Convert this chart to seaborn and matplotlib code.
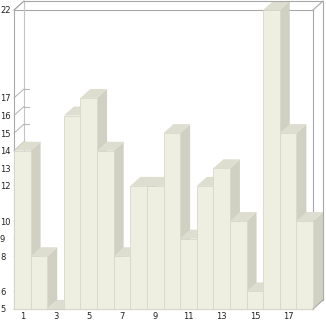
import numpy as np
import pandas as pd
import seaborn as sns
import matplotlib
matplotlib.use("Agg")
import matplotlib.pyplot as plt
from matplotlib.patches import Polygon
from matplotlib.lines import Line2D
from matplotlib.transforms import IdentityTransform

# ---- data ----
categories = [str(i) for i in range(1, 19)]
values = [14, 8, 5, 16, 17, 14, 8, 12, 12, 15, 9, 12, 13, 10, 6, 22, 15, 10]
x_tick_labels = ["1", "3", "5", "7", "9", "11", "13", "15", "17"]
y_min, y_max = 5, 22

FRONT = "#EEEEE1"
TOP = "#DEDED0"
SIDE = "#D1D1C3"
EDGE = "#D8D8CA"
FRAME = "#A8A8A8"
BACK = "#C4C4C4"

sns.set_style("white")
plt.rcParams["font.family"] = ["DejaVu Sans"]

W, H, DPI = 326, 321, 100
fig = plt.figure(figsize=(W / DPI, H / DPI), dpi=DPI)
L, R, T, B = 14, 313, 10, 309
ax = fig.add_axes([L / W, (H - B) / H, (R - L) / W, (B - T) / H])

df = pd.DataFrame({"cat": categories, "h": [v - y_min for v in values]})
sns.barplot(data=df, x="cat", y="h", order=categories, color=FRONT, width=1.0,
            saturation=1, bottom=y_min, edgecolor=EDGE, linewidth=0.6, ax=ax, zorder=3)
ax.set_xlim(-0.5, len(categories) - 0.5)
ax.set_ylim(y_min, y_max)

DX, DY = 10, 9  # depth offset in pixels
inv = fig.transFigure.inverted()

def fig_line(p0, p1, color, lw, z):
    a, b = inv.transform(p0), inv.transform(p1)
    fig.add_artist(Line2D([a[0], b[0]], [a[1], b[1]], color=color, lw=lw, zorder=z))

# back frame lines
bl = ax.transAxes.transform((0, 0)) + [DX, DY]
tl = ax.transAxes.transform((0, 1)) + [DX, DY]
br = ax.transAxes.transform((1, 0)) + [DX, DY]
tr = ax.transAxes.transform((1, 1)) + [DX, DY]
fig_line(bl, tl, BACK, 0.8, 0.5)
fig_line(bl, br, BACK, 0.8, 0.5)
fig_line(tl, tr, FRAME, 0.8, 6)
fig_line(tr, br, FRAME, 0.8, 6)

# left-wall tick marks
yt = sorted(set(values))
for v in yt:
    p0 = ax.transData.transform((-0.5, v))
    p1 = p0 + np.array([DX, DY])
    fig_line(p0, p1, "#B0B0B0", 0.7, 0.6)
    fig_line(p1, p1 + np.array([5, 0]), "#B8B8B8", 0.8, 0.6)

# 3D sides and tops derived from the bar patches
patches = list(ax.patches)
for p in patches:
    x1 = p.get_x() + p.get_width()
    y0 = p.get_y(); y1 = y0 + p.get_height()
    fr = ax.transData.transform([(x1, y0), (x1, y1)])
    bk = fr + np.array([DX, DY])
    side = Polygon([fr[0], fr[1], bk[1], bk[0]], closed=True,
                   facecolor=SIDE, edgecolor="none", zorder=1)
    side.set_transform(IdentityTransform())
    fig.add_artist(side)
for p in patches:
    x0 = p.get_x(); w = p.get_width(); y1 = p.get_y() + p.get_height()
    fr = ax.transData.transform([(x0, y1), (x0 + w, y1)])
    bk = fr + np.array([DX, DY])
    top = Polygon([fr[0], fr[1], bk[1], bk[0]], closed=True,
                  facecolor=TOP, edgecolor="none", zorder=2)
    top.set_transform(IdentityTransform())
    fig.add_artist(top)

# bring the front faces above the figure-level polygons
for p in patches:
    p.remove()
    p.set_clip_on(False)
    fig.add_artist(p)
    p.set_transform(ax.transData)
    p.set_zorder(3)

# front frame
for s in ["left", "top", "right", "bottom"]:
    ax.spines[s].set_visible(True)
    ax.spines[s].set_color(FRAME)
    ax.spines[s].set_linewidth(0.8)
    ax.spines[s].set_zorder(6)
for (xa, ya) in [(0, 1), (1, 1), (1, 0)]:
    pa = ax.transAxes.transform((xa, ya))
    fig_line(pa, pa + np.array([DX, DY]), FRAME, 0.8, 6)

ax.set_yticks(yt)
ax.set_yticklabels([str(v) for v in yt])
ax.set_xticks(range(0, len(categories), 2))
ax.set_xticklabels(x_tick_labels)
ax.tick_params(axis="y", length=0, pad=10.1, labelsize=6, labelcolor="#222222")
ax.tick_params(axis="x", length=0, pad=2.5, labelsize=6, labelcolor="#222222")
for t in ax.get_yticklabels():
    t.set_horizontalalignment("left")
ax.set_xlabel("")
ax.set_ylabel("")
ax.patch.set_alpha(0)
fig.patch.set_facecolor("white")

fig.savefig("out.png", dpi=DPI)
